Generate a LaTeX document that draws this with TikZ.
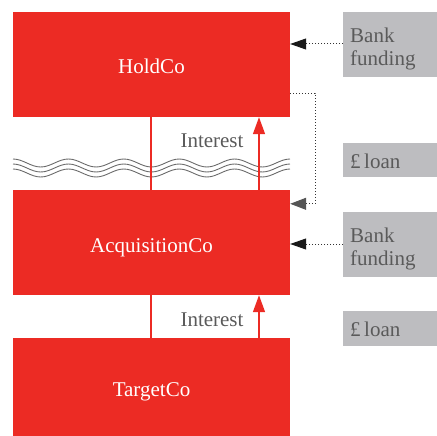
\documentclass[tikz,border=0pt]{standalone}
\usepackage{fontspec}
\setmainfont{Liberation Serif}
\usetikzlibrary{arrows.meta,calc}
\definecolor{corpred}{HTML}{EC2B24}
\definecolor{boxgrey}{HTML}{BDBDC0}
\definecolor{txtgrey}{HTML}{5A5A5A}
\definecolor{wavegrey}{HTML}{6A6A6A}
\definecolor{dotgrey}{HTML}{333333}
\definecolor{headgrey}{HTML}{555555}
\begin{document}
\begin{tikzpicture}[x=1pt,y=-1pt,
  redbox/.style={fill=corpred,text=white,minimum width=277pt,
    inner sep=0pt,font=\fontsize{21}{23}\selectfont,text height=19pt,text depth=0pt},
  greybox/.style={fill=boxgrey,minimum width=94pt,inner sep=0pt,anchor=north west},
  greytext/.style={anchor=north west,inner sep=0pt,align=left,text=txtgrey,
    font=\fontsize{21}{23}\selectfont},
  interest/.style={anchor=base,inner sep=0pt,text=txtgrey,font=\fontsize{21}{23}\selectfont},
  redline/.style={draw=corpred,line width=1.5pt},
  redarrow/.style={redline,-{Triangle[length=17pt,width=12pt]}},
  dotline/.style={draw=dotgrey,line width=1pt,dash pattern=on 1pt off 2pt},
  bankarrow/.style={dotline,-{Triangle[length=16pt,width=11pt,color=black!90]}},
  loanarrow/.style={dotline,-{Triangle[length=16pt,width=12pt,color=headgrey]}},
  wave/.style={draw=wavegrey,line width=0.9pt}
]
\useasboundingbox (0,0) rectangle (437,436);

% company boxes
\node (holdco) [redbox,minimum height=105pt] at (151.5,64.5) {HoldCo};
\node (acq)    [redbox,minimum height=105pt] at (151.5,242.5) {AcquisitionCo};
\node (target) [redbox,minimum height=98pt]  at (151.5,387) {TargetCo};

% funding boxes on the right
\node (bank1) [greybox,minimum height=65pt] at (343,12) {};
\node (loan1) [greybox,minimum height=34pt] at (343,143) {};
\node (bank2) [greybox,minimum height=65pt] at (343,212) {};
\node (loan2) [greybox,minimum height=35pt] at (343,311) {};
\node (bank1t) [greytext] at (350,28) {Bank\\funding};
\node (loan1t) [greytext] at (350,153.5) {£\,loan};
\node (bank2t) [greytext] at (350,228) {Bank\\funding};
\node (loan2t) [greytext] at (350,321.5) {£\,loan};

% wavy break between HoldCo and AcquisitionCo: five periods of 55.4pt
\foreach \off in {0,5,10}{
  \draw[wave] (13,159+\off)
    \foreach \k in {1,...,5}{
      cos ++(13.85,4) sin ++(13.85,4) cos ++(13.85,-4) sin ++(13.85,-4)
    };
}

% interest flows
\coordinate (xl) at (151,0);
\coordinate (xr) at (259,0);
\draw[redline]  (holdco.south -| xl) -- (acq.north -| xl);
\draw[redarrow] (acq.north -| xr) -- (holdco.south -| xr);
\draw[redline]  (acq.south -| xl) -- (target.north -| xl);
\draw[redarrow] (target.north -| xr) -- (acq.south -| xr);
\node (int1) [interest] at (212,147) {Interest};
\node (int2) [interest] at (212,326) {Interest};

% funding connectors
\coordinate (b1) at ($(bank1.north west)+(0,32)$);
\coordinate (b2) at ($(bank2.north west)+(0,32)$);
\draw[bankarrow] (b1) -- (b1 -| holdco.east);
\draw[bankarrow] (b2) -- (b2 -| acq.east);
\coordinate (h1) at ($(holdco.south east)+(0,-24)$);
\coordinate (a1) at ($(acq.north east)+(0,14)$);
\draw[loanarrow] (h1) -- ++(25,0) |- (a1);
\end{tikzpicture}
\end{document}
